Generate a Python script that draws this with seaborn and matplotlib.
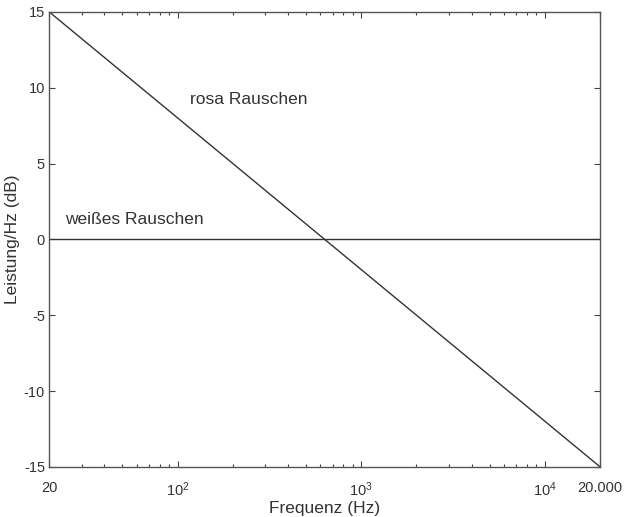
import numpy as np
import pandas as pd
import matplotlib
matplotlib.use("Agg")
import matplotlib.pyplot as plt
import seaborn as sns
from matplotlib.ticker import FixedLocator, LogLocator, NullFormatter

# Data
freq = [20, 20000]
rosa_db = [15, -15]
weiss_db = [0, 0]
x_ticks = [20, 100, 1000, 10000, 20000]
x_ticklabels = ["20", r"$10^2$", r"$10^3$", r"$10^4$", "20.000"]
y_ticks = [-15, -10, -5, 0, 5, 10, 15]

sns.set_theme(style="white")
plt.rcParams["font.family"] = ["Liberation Sans", "DejaVu Sans"]
plt.rcParams["mathtext.fontset"] = "custom"
plt.rcParams["mathtext.rm"] = "Liberation Sans"
plt.rcParams["mathtext.it"] = "Liberation Sans"

df = pd.DataFrame({
    "f": freq + freq,
    "db": rosa_db + weiss_db,
    "s": ["rosa"] * 2 + ["weiss"] * 2,
})

fig = plt.figure(figsize=(6.31, 5.17), dpi=100)
ax = fig.add_axes([0.078, 0.097, 0.873, 0.880])
line_col = "#333333"
sns.lineplot(data=df, x="f", y="db", units="s", estimator=None, ax=ax,
             color=line_col, linewidth=1.0, legend=False)
ax.set_xscale("log")
ax.set_xlim(20, 20000)
ax.set_ylim(-15, 15)

ax.xaxis.set_major_locator(FixedLocator(x_ticks))
ax.set_xticklabels(x_ticklabels)
ax.xaxis.set_minor_locator(LogLocator(base=10, subs=np.arange(2, 10), numticks=20))
ax.xaxis.set_minor_formatter(NullFormatter())
ax.set_yticks(y_ticks)
ax.set_yticklabels([str(v) for v in y_ticks])

ax.tick_params(axis="both", which="both", direction="in", top=True, right=True,
               bottom=True, left=True, colors="#444444", labelcolor="#333333",
               labelsize=10.5)
ax.tick_params(axis="both", which="major", length=4, width=0.8)
ax.tick_params(axis="x", which="minor", length=2.5, width=0.8)
ax.tick_params(axis="x", which="major", pad=10)
ax.tick_params(axis="y", which="major", pad=3)

for sp in ax.spines.values():
    sp.set_color("#555555")
    sp.set_linewidth(1.0)

ax.set_xlabel("Frequenz (Hz)", fontsize=12.5, color="#333333", labelpad=1)
ax.set_ylabel("Leistung/Hz (dB)", fontsize=12.5, color="#333333", labelpad=3)

ax.text(117, 9.2, "rosa Rauschen", fontsize=12.5, color="#333333", va="center", ha="left")
ax.text(24.5, 1.3, "weißes Rauschen", fontsize=12.5, color="#333333", va="center", ha="left")

fig.savefig("out.png", dpi=100, facecolor="white")
